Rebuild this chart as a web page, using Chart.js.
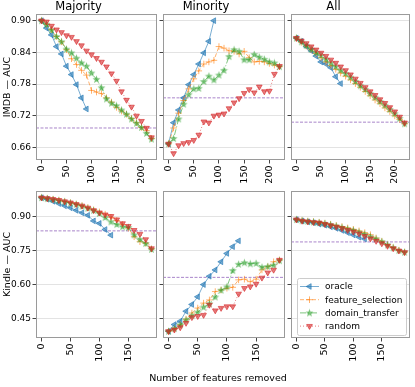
<!DOCTYPE html>
<html>
<head>
<meta charset="utf-8">
<script src="https://cdn.jsdelivr.net/npm/chart.js@4.4.1/dist/chart.umd.min.js"></script>
<style>
body { margin: 0; background: #fff; }
#wrap { position: relative; width: 415px; height: 387px; }
#wrap canvas { position: absolute; left: 0; top: 0; }
#xlabel { position: absolute; left: 118px; width: 200px; top: 372px; text-align: center;
  font: 9.5px "DejaVu Sans"; color: #000; white-space: nowrap; }
</style>
</head>
<body>
<div id="wrap">
  <canvas id="c0" width="415" height="387"></canvas>
  <canvas id="c1" width="415" height="387"></canvas>
  <canvas id="c2" width="415" height="387"></canvas>
  <canvas id="c3" width="415" height="387"></canvas>
  <canvas id="c4" width="415" height="387"></canvas>
  <canvas id="c5" width="415" height="387"></canvas>
  <div id="xlabel">Number of features removed</div>
</div>
<script>
// Start Data
const colTitles = ['Majority', 'Minority', 'All'];
const rowLabels = ['IMDB \u2014 AUC', 'Kindle \u2014 AUC'];
const seriesNames = ['oracle', 'feature_selection', 'domain_transfer', 'random'];

const imdbX = [0, 10, 20, 30, 40, 50, 60, 70, 80, 90, 100, 110, 120, 130, 140, 150, 160, 170, 180, 190, 200, 210, 220];
const kindleX = [0, 10, 20, 30, 40, 50, 60, 70, 80, 90, 100, 110, 120, 130, 140, 150, 160, 170, 180, 190];
const imdbXTicks = [0, 50, 100, 150, 200];
const kindleXTicks = [0, 50, 100, 150];
const imdbYTicks = [0.66, 0.72, 0.78, 0.84, 0.90];
const kindleYTicks = [0.45, 0.60, 0.75, 0.90];

// IMDB
const imdbMajOracle = [0.900, 0.886, 0.873, 0.851, 0.837, 0.814, 0.798, 0.779, 0.754, 0.733];
const imdbMajFeature = [0.900, 0.893, 0.883, 0.870, 0.860, 0.845, 0.828, 0.817, 0.806, 0.797, 0.768, 0.765, 0.762, 0.754, 0.746, 0.736, 0.729, 0.723, 0.715, 0.707, 0.698, 0.692, 0.677];
const imdbMajDomain = [0.900, 0.893, 0.882, 0.870, 0.860, 0.846, 0.839, 0.829, 0.820, 0.814, 0.801, 0.789, 0.773, 0.752, 0.744, 0.739, 0.731, 0.723, 0.714, 0.706, 0.698, 0.687, 0.676];
const imdbMajRandom = [0.900, 0.898, 0.890, 0.883, 0.878, 0.872, 0.869, 0.861, 0.853, 0.843, 0.836, 0.829, 0.822, 0.813, 0.800, 0.786, 0.766, 0.750, 0.737, 0.720, 0.710, 0.697, 0.679];

const imdbMinOracle = [0.667, 0.707, 0.731, 0.754, 0.779, 0.798, 0.818, 0.839, 0.861, 0.900];
const imdbMinFeature = [0.667, 0.697, 0.725, 0.749, 0.771, 0.790, 0.805, 0.818, 0.822, 0.825, 0.851, 0.848, 0.843, 0.842, 0.837, 0.842, 0.830, 0.822, 0.823, 0.822, 0.819, 0.816, 0.813];
const imdbMinDomain = [0.667, 0.677, 0.714, 0.742, 0.760, 0.771, 0.772, 0.785, 0.795, 0.788, 0.797, 0.806, 0.832, 0.845, 0.842, 0.826, 0.826, 0.836, 0.831, 0.827, 0.822, 0.820, 0.813];
const imdbMinRandom = [0.667, 0.649, 0.664, 0.668, 0.670, 0.674, 0.684, 0.709, 0.707, 0.720, 0.722, 0.724, 0.734, 0.745, 0.753, 0.763, 0.770, 0.764, 0.775, 0.766, 0.767, 0.799, 0.814];

const imdbAllOracle = [0.867, 0.861, 0.851, 0.843, 0.833, 0.822, 0.818, 0.811, 0.794, 0.781];
const imdbAllFeature = [0.867, 0.859, 0.852, 0.845, 0.838, 0.830, 0.822, 0.815, 0.808, 0.801, 0.795, 0.788, 0.781, 0.774, 0.766, 0.758, 0.750, 0.743, 0.735, 0.728, 0.720, 0.713, 0.705];
const imdbAllDomain = [0.867, 0.860, 0.853, 0.846, 0.840, 0.834, 0.827, 0.820, 0.813, 0.806, 0.800, 0.793, 0.785, 0.777, 0.770, 0.762, 0.755, 0.747, 0.740, 0.732, 0.724, 0.715, 0.705];
const imdbAllRandom = [0.867, 0.862, 0.857, 0.851, 0.845, 0.839, 0.833, 0.826, 0.820, 0.813, 0.806, 0.798, 0.790, 0.782, 0.774, 0.766, 0.759, 0.751, 0.744, 0.736, 0.728, 0.718, 0.707];

// Kindle
const kindleMajOracle = [0.985, 0.978, 0.969, 0.959, 0.949, 0.940, 0.929, 0.918, 0.907, 0.882, 0.871, 0.844, 0.819];
const kindleMajFeature = [0.985, 0.982, 0.978, 0.974, 0.968, 0.963, 0.957, 0.950, 0.941, 0.931, 0.922, 0.912, 0.898, 0.884, 0.866, 0.850, 0.812, 0.790, 0.783, 0.758];
const kindleMajDomain = [0.985, 0.981, 0.977, 0.972, 0.967, 0.961, 0.955, 0.947, 0.938, 0.928, 0.915, 0.897, 0.878, 0.866, 0.856, 0.853, 0.820, 0.800, 0.782, 0.756];
const kindleMajRandom = [0.985, 0.982, 0.978, 0.974, 0.968, 0.963, 0.956, 0.949, 0.940, 0.929, 0.919, 0.910, 0.903, 0.888, 0.871, 0.859, 0.841, 0.824, 0.800, 0.760];

const kindleMinOracle = [0.393, 0.423, 0.438, 0.482, 0.512, 0.546, 0.600, 0.637, 0.665, 0.701, 0.738, 0.768, 0.794];
const kindleMinFeature = [0.393, 0.403, 0.422, 0.447, 0.474, 0.496, 0.518, 0.532, 0.569, 0.576, 0.584, 0.588, 0.621, 0.624, 0.613, 0.624, 0.665, 0.679, 0.701, 0.709];
const kindleMinDomain = [0.393, 0.405, 0.421, 0.443, 0.462, 0.478, 0.500, 0.515, 0.545, 0.575, 0.590, 0.662, 0.690, 0.697, 0.692, 0.694, 0.677, 0.680, 0.686, 0.706];
const kindleMinRandom = [0.393, 0.400, 0.410, 0.430, 0.455, 0.460, 0.465, 0.510, 0.485, 0.496, 0.503, 0.503, 0.559, 0.584, 0.591, 0.603, 0.630, 0.653, 0.665, 0.709];

const kindleAllOracle = [0.888, 0.882, 0.878, 0.874, 0.868, 0.863, 0.856, 0.849, 0.840, 0.830, 0.820, 0.810, 0.802];
const kindleAllFeature = [0.888, 0.884, 0.881, 0.879, 0.876, 0.872, 0.867, 0.862, 0.857, 0.851, 0.845, 0.838, 0.830, 0.821, 0.806, 0.792, 0.776, 0.764, 0.752, 0.744];
const kindleAllDomain = [0.888, 0.883, 0.880, 0.877, 0.874, 0.870, 0.865, 0.859, 0.853, 0.846, 0.840, 0.832, 0.823, 0.812, 0.802, 0.790, 0.776, 0.763, 0.751, 0.743];
const kindleAllRandom = [0.888, 0.882, 0.879, 0.876, 0.874, 0.868, 0.862, 0.856, 0.849, 0.841, 0.834, 0.826, 0.815, 0.804, 0.793, 0.782, 0.771, 0.760, 0.750, 0.743];

// dashed purple reference lines
const imdbBaseline = [0.697, 0.754, 0.708];
const kindleBaseline = [0.838, 0.632, 0.789];
// End Data

Chart.defaults.font.family = '"DejaVu Sans", sans-serif';
Chart.defaults.color = '#000';

// panel boxes (pixels)
const colLeft = [36, 163, 291];
const colRight = [157, 285, 412];
const rowTop = [13, 191];
const rowBottom = [160, 338];

function makeStar(rgb) {
  const c = document.createElement('canvas');
  c.width = 9; c.height = 9;
  const g = c.getContext('2d');
  g.beginPath();
  for (let i = 0; i < 10; i++) {
    const a = -Math.PI / 2 + i * Math.PI / 5;
    const r = i % 2 ? 1.7 : 4.2;
    g.lineTo(4.5 + r * Math.cos(a), 4.7 + r * Math.sin(a));
  }
  g.closePath();
  g.fillStyle = 'rgba(' + rgb + ',0.65)';
  g.fill();
  return c;
}

const styles = [
  { rgb: '31,119,180', dash: [], point: 'triangle', rot: -90, radius: 3.3 },
  { rgb: '255,127,14', dash: [4, 2], point: 'cross', rot: 0, radius: 3.3 },
  { rgb: '44,160,44', dash: [6, 2, 1, 2], point: makeStar('44,160,44'), rot: 0, radius: 3.3 },
  { rgb: '214,39,40', dash: [1, 2], point: 'triangle', rot: 180, radius: 3.3 }
];

function pairs(xs, ys) {
  return ys.map(function (y, i) { return { x: xs[i], y: y }; });
}

function pad(lo, hi) {
  const m = (hi - lo) * 0.05;
  return [lo - m, hi + m];
}

const rows = [
  { x: imdbX, xTicks: imdbXTicks, yTicks: imdbYTicks, base: imdbBaseline,
    series: [[imdbMajOracle, imdbMajFeature, imdbMajDomain, imdbMajRandom],
             [imdbMinOracle, imdbMinFeature, imdbMinDomain, imdbMinRandom],
             [imdbAllOracle, imdbAllFeature, imdbAllDomain, imdbAllRandom]] },
  { x: kindleX, xTicks: kindleXTicks, yTicks: kindleYTicks, base: kindleBaseline,
    series: [[kindleMajOracle, kindleMajFeature, kindleMajDomain, kindleMajRandom],
             [kindleMinOracle, kindleMinFeature, kindleMinDomain, kindleMinRandom],
             [kindleAllOracle, kindleAllFeature, kindleAllDomain, kindleAllRandom]] }
];

// frame + baseline
const framePlugin = {
  id: 'frame',
  beforeDatasetsDraw: function (chart, args, opts) {
    const a = chart.chartArea, ctx = chart.ctx;
    const y = chart.scales.y.getPixelForValue(opts.base);
    ctx.save();
    ctx.strokeStyle = 'rgba(148,103,189,0.8)';
    ctx.lineWidth = 1;
    ctx.setLineDash([3, 1.5]);
    ctx.beginPath();
    ctx.moveTo(a.left, y); ctx.lineTo(a.right, y);
    ctx.stroke();
    ctx.restore();
  },
  afterDraw: function (chart) {
    const a = chart.chartArea, ctx = chart.ctx;
    ctx.save();
    ctx.strokeStyle = '#9a9a9a';
    ctx.lineWidth = 1;
    ctx.strokeRect(a.left + 0.5, a.top + 0.5, a.right - a.left - 1, a.bottom - a.top - 1);
    ctx.restore();
  }
};

function drawMarker(ctx, st, x, y) {
  if (typeof st.point !== 'string') {
    ctx.drawImage(st.point, x - st.point.width / 2, y - st.point.height / 2);
    return;
  }
  Chart.helpers.drawPoint(ctx, { pointStyle: st.point, rotation: st.rot, radius: st.radius, borderWidth: 1 }, x, y);
}

const legendPlugin = {
  id: 'boxLegend',
  afterDraw: function (chart, args, opts) {
    if (!opts.show) return;
    const ctx = chart.ctx;
    const bx = 297, by = 278, bw = 109, bh = 57;
    ctx.save();
    ctx.fillStyle = 'rgba(255,255,255,0.8)';
    ctx.strokeStyle = '#cccccc';
    ctx.lineWidth = 1;
    ctx.beginPath();
    ctx.roundRect(bx + 0.5, by + 0.5, bw, bh, 2);
    ctx.fill(); ctx.stroke();
    ctx.font = '9px "DejaVu Sans"';
    ctx.textBaseline = 'middle';
    seriesNames.forEach(function (name, i) {
      const st = styles[i];
      const y = 286.5 + i * 13.2;
      ctx.strokeStyle = 'rgba(' + st.rgb + ',0.6)';
      ctx.fillStyle = 'rgba(' + st.rgb + ',0.6)';
      ctx.lineWidth = 1;
      ctx.setLineDash(st.dash);
      ctx.beginPath();
      ctx.moveTo(300, y); ctx.lineTo(319, y);
      ctx.stroke();
      ctx.setLineDash([]);
      drawMarker(ctx, st, 309.5, y);
      ctx.fillStyle = '#000';
      ctx.fillText(name, 325, y + 0.5);
    });
    ctx.restore();
  }
};

rows.forEach(function (row, r) {
  const all = [].concat.apply([], row.series.map(function (s) { return [].concat.apply([], s); }));
  const xr = pad(Math.min.apply(null, row.x), Math.max.apply(null, row.x));
  const yr = pad(Math.min.apply(null, all), Math.max.apply(null, all));

  row.series.forEach(function (panel, c) {
    const datasets = panel.map(function (ys, i) {
      const st = styles[i];
      return {
        label: seriesNames[i],
        data: pairs(row.x, ys),
        order: 3 - i,
        borderColor: 'rgba(' + st.rgb + ',0.6)',
        backgroundColor: 'rgba(' + st.rgb + ',0.6)',
        borderWidth: 1,
        borderDash: st.dash,
        pointStyle: st.point,
        rotation: st.rot,
        pointRadius: st.radius,
        pointBorderWidth: 1,
        tension: 0
      };
    });

    const hasTitle = r === 0;
    new Chart(document.getElementById('c' + (r * 3 + c)), {
      type: 'line',
      data: { datasets: datasets },
      plugins: [framePlugin, legendPlugin],
      options: {
        responsive: false,
        animation: false,
        events: [],
        layout: {
          padding: {
            left: colLeft[c] - 36,
            right: 415 - colRight[c],
            top: hasTitle ? rowTop[r] - 13.2 : rowTop[r],
            bottom: 387 - rowBottom[r] - 45
          }
        },
        plugins: {
          legend: { display: false },
          tooltip: { enabled: false },
          title: { display: hasTitle, text: colTitles[c], font: { size: 11.5, weight: 'normal', lineHeight: 1.15 }, padding: { top: 1, bottom: 0 }, color: '#000' },
          frame: { base: row.base[c] },
          boxLegend: { show: r === 1 && c === 2 }
        },
        scales: {
          x: {
            type: 'linear',
            min: xr[0], max: xr[1],
            afterBuildTicks: function (s) { s.ticks = row.xTicks.map(function (v) { return { value: v }; }); },
            afterFit: function (s) { s.height = 45; },
            grid: { drawOnChartArea: false, drawTicks: true, tickLength: 3.5, tickColor: '#444' },
            border: { display: false },
            ticks: { minRotation: 90, maxRotation: 90, autoSkip: false, padding: 2, font: { size: 9.5 }, color: '#000' }
          },
          y: {
            type: 'linear',
            min: yr[0], max: yr[1],
            afterBuildTicks: function (s) { s.ticks = row.yTicks.map(function (v) { return { value: v }; }); },
            afterFit: function (s) { s.width = 36; },
            grid: { color: '#e3e3e3', lineWidth: 1, drawTicks: true, tickLength: 3.5, tickColor: '#444' },
            border: { display: false },
            title: { display: c === 0, text: rowLabels[r], font: { size: 9.5 }, padding: { top: 2, bottom: 0 }, color: '#000' },
            ticks: {
              display: c === 0, padding: 1.5, font: { size: 9 }, color: '#000',
              callback: function (v) { return v.toFixed(2); }
            }
          }
        }
      }
    });
  });
});
</script>
</body>
</html>
